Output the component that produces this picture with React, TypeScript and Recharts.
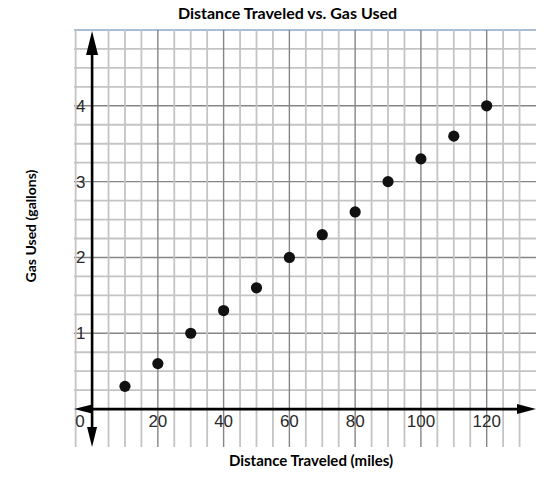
import React from 'react';
import { ScatterChart, Scatter, XAxis, YAxis, ReferenceLine } from 'recharts';

// miles vs gallons
const distance = [10, 20, 30, 40, 50, 60, 70, 80, 90, 100, 110, 120];
const gasUsed = [0.3, 0.6, 1.0, 1.3, 1.6, 2.0, 2.3, 2.6, 3.0, 3.3, 3.6, 4.0];
const xTickLabels = [0, 20, 40, 60, 80, 100, 120];
const yTickLabels = [1, 2, 3, 4];

const points = distance.map((d, i) => ({ distance: d, gas: gasUsed[i] }));

// graph paper: a line every 5 miles and every quarter gallon
const xGrid = Array.from({ length: 28 }, (_, i) => -5 + i * 5).filter((v) => v !== 0);
const yGrid = Array.from({ length: 19 }, (_, i) => 0.25 + i * 0.25);

const MINOR = '#c4c4c4';
const MAJOR = '#858585';
const LABEL = '#2a2a2a';

const HorizontalAxis = (p: any) => {
  const { x1, y1, x2 } = p;
  return (
    <g>
      <line x1={x1 + 10} y1={y1} x2={x2 - 10} y2={y1} stroke="#000" strokeWidth={2.6} />
      <polygon points={`${x1},${y1} ${x1 + 18},${y1 - 4.5} ${x1 + 18},${y1 + 4.5}`} fill="#000" />
      <polygon points={`${x2},${y1} ${x2 - 19},${y1 - 5} ${x2 - 19},${y1 + 5}`} fill="#000" />
    </g>
  );
};

const VerticalAxis = (p: any) => {
  const { x1, y1, y2 } = p;
  const top = Math.min(y1, y2) + 1;
  const bottom = Math.max(y1, y2);
  return (
    <g>
      <line x1={x1} y1={top + 10} x2={x1} y2={bottom - 10} stroke="#000" strokeWidth={2.6} />
      <polygon points={`${x1},${top} ${x1 - 6},${top + 24} ${x1 + 6},${top + 24}`} fill="#000" />
      <polygon points={`${x1},${bottom} ${x1 - 5},${bottom - 20} ${x1 + 5},${bottom - 20}`} fill="#000" />
    </g>
  );
};

const Dot = (p: any) => <circle cx={p.cx} cy={p.cy} r={5.6} fill="#111" />;

const zeroLabel = (lp: any) => (
  <text
    x={lp.viewBox.x - 12}
    y={lp.viewBox.y + lp.viewBox.height - 20}
    textAnchor="middle"
    fill={LABEL}
    fontSize={17}
  >
    0
  </text>
);

export default function App() {
  return (
    <div
      style={{
        position: 'absolute',
        left: 0,
        top: 0,
        width: 552,
        height: 483,
        background: '#fff',
        fontFamily: '"Liberation Sans", Arial, sans-serif',
      }}
    >
      <div
        style={{
          position: 'absolute',
          left: 0,
          width: 575,
          top: 3,
          textAlign: 'center',
          fontFamily: 'Lato, sans-serif',
          fontWeight: 700,
          fontSize: 16,
          color: '#000',
        }}
      >
        Distance Traveled vs. Gas Used
      </div>
      <div
        style={{
          position: 'absolute',
          left: 0,
          width: 622,
          top: 451,
          textAlign: 'center',
          fontFamily: 'Lato, sans-serif',
          fontWeight: 700,
          fontSize: 15,
          color: '#000',
        }}
      >
        Distance Traveled (miles)
      </div>
      <div
        style={{
          position: 'absolute',
          left: 30,
          top: 226,
          transform: 'translate(-50%, -50%) rotate(-90deg)',
          whiteSpace: 'nowrap',
          fontFamily: 'Lato, sans-serif',
          fontWeight: 700,
          fontSize: 14,
          color: '#000',
        }}
      >
        Gas Used (gallons)
      </div>
      <ScatterChart
        width={552}
        height={483}
        margin={{ top: 30, right: 16, bottom: 36, left: 74 }}
        style={{ position: 'absolute', left: 0, top: 0 }}
      >
        <XAxis type="number" dataKey="distance" domain={[-5.5, 135]} hide />
        <YAxis type="number" dataKey="gas" domain={[-0.5, 5]} hide />

        {yGrid.map((v) => (
          <ReferenceLine
            key={`h${v}`}
            y={v}
            stroke={Number.isInteger(v) ? MAJOR : MINOR}
            strokeWidth={Number.isInteger(v) ? 1.4 : 1.8}
            label={
              yTickLabels.includes(v)
                ? { value: String(v), position: 'insideLeft', offset: 2, fill: LABEL, fontSize: 17 }
                : undefined
            }
          />
        ))}
        <ReferenceLine y={5} stroke="#a9bcd8" strokeWidth={2} />
        {xGrid.map((v) => (
          <ReferenceLine
            key={`v${v}`}
            x={v}
            stroke={v % 20 === 0 ? MAJOR : MINOR}
            strokeWidth={v % 20 === 0 ? 1.4 : 1.8}
            label={
              xTickLabels.includes(v)
                ? { value: String(v), position: 'insideBottom', offset: 20, fill: LABEL, fontSize: 17 }
                : undefined
            }
          />
        ))}

        <ReferenceLine y={0} shape={HorizontalAxis} />
        <ReferenceLine x={0} shape={VerticalAxis} label={zeroLabel} />

        <Scatter data={points} shape={Dot} isAnimationActive={false} />
      </ScatterChart>
    </div>
  );
}
